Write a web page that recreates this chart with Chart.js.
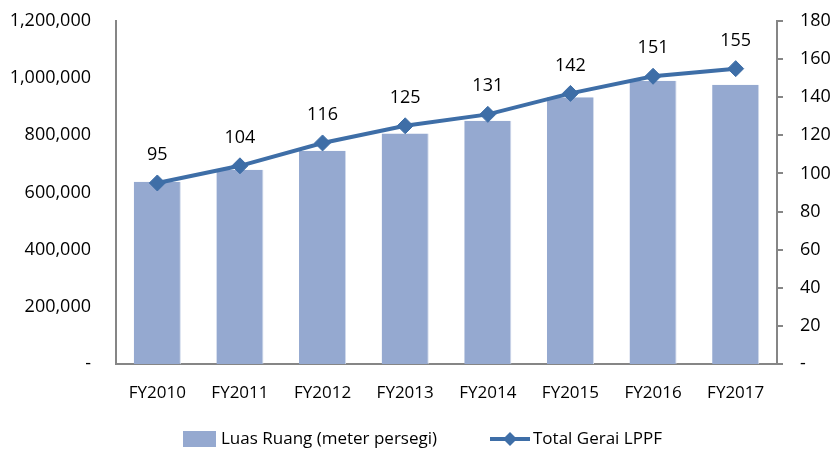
<!DOCTYPE html>
<html lang="id">
<head>
    <meta charset="UTF-8">
    <title>Luas Ruang dan Total Gerai LPPF</title>
    <script src="https://cdn.jsdelivr.net/npm/chart.js"></script>
    <style>
        html, body { margin: 0; padding: 0; background: #fff; }
        .chart-box { position: relative; width: 830px; height: 453px; }
    </style>
</head>
<body>
    <div class="chart-box">
        <canvas id="lppfChart" width="830" height="453"></canvas>
    </div>

    <script>
        const years = ['FY2010', 'FY2011', 'FY2012', 'FY2013', 'FY2014', 'FY2015', 'FY2016', 'FY2017'];
        const luasRuang = [638000, 680000, 746000, 806000, 851000, 933000, 991000, 977000];
        const totalGerai = [95, 104, 116, 125, 131, 142, 151, 155];
        const leftTicks = [0, 200000, 400000, 600000, 800000, 1000000, 1200000];
        const rightTicks = [0, 20, 40, 60, 80, 100, 120, 140, 160, 180];

        const barColor = '#95a9d0';
        const lineColor = '#3e6ea7';
        const axisColor = '#868686';
        const fontFamily = "'Open Sans', sans-serif";

        function formatTick(value) {
            return value === 0 ? '-' : value.toLocaleString('en-US');
        }

        // fixed axis width, and no extra vertical padding from the tick labels
        function fixAxis(width) {
            return scale => {
                scale.width = width;
                scale.paddingTop = 0;
                scale.paddingBottom = 0;
            };
        }

        // numbers above the line points
        const pointLabels = {
            id: 'pointLabels',
            afterDatasetsDraw(chart) {
                const meta = chart.getDatasetMeta(1);
                const ctx = chart.ctx;
                ctx.save();
                ctx.font = '18px ' + fontFamily;
                ctx.fillStyle = '#000';
                ctx.textAlign = 'center';
                ctx.textBaseline = 'middle';
                meta.data.forEach((pt, i) => {
                    ctx.fillText(String(totalGerai[i]), pt.x, pt.y - 28);
                });
                ctx.restore();
            }
        };

        // legend: bar swatch + line with diamond
        const bottomLegend = {
            id: 'bottomLegend',
            afterDraw(chart) {
                const ctx = chart.ctx;
                const y = 439;
                ctx.save();
                ctx.font = '17px ' + fontFamily;
                ctx.textBaseline = 'middle';
                ctx.fillStyle = barColor;
                ctx.fillRect(183, y - 8, 33, 16);
                ctx.fillStyle = '#000';
                ctx.fillText(chart.data.datasets[0].label, 221, y);

                ctx.strokeStyle = lineColor;
                ctx.lineWidth = 4;
                ctx.beginPath();
                ctx.moveTo(490, y);
                ctx.lineTo(530, y);
                ctx.stroke();
                ctx.fillStyle = lineColor;
                ctx.beginPath();
                ctx.moveTo(510, y - 7);
                ctx.lineTo(517, y);
                ctx.lineTo(510, y + 7);
                ctx.lineTo(503, y);
                ctx.closePath();
                ctx.fill();
                ctx.fillStyle = '#000';
                ctx.fillText(chart.data.datasets[1].label, 533, y);
                ctx.restore();
            }
        };

        new Chart(document.getElementById('lppfChart').getContext('2d'), {
            type: 'bar',
            data: {
                labels: years,
                datasets: [{
                    type: 'bar',
                    label: 'Luas Ruang (meter persegi)',
                    data: luasRuang,
                    backgroundColor: barColor,
                    borderColor: '#d3dcec',
                    borderWidth: { right: 1, left: 0, top: 0, bottom: 0 },
                    barPercentage: 0.57,
                    categoryPercentage: 1,
                    yAxisID: 'y',
                    order: 2
                }, {
                    type: 'line',
                    label: 'Total Gerai LPPF',
                    data: totalGerai,
                    borderColor: lineColor,
                    backgroundColor: lineColor,
                    borderWidth: 4,
                    pointStyle: 'rectRot',
                    pointRadius: 8,
                    pointBorderWidth: 1,
                    tension: 0,
                    yAxisID: 'y1',
                    order: 1
                }]
            },
            options: {
                responsive: false,
                animation: false,
                layout: { padding: { top: 21, left: 0, right: 0, bottom: 0 } },
                scales: {
                    x: {
                        grid: { display: false, drawTicks: false },
                        border: { color: axisColor, width: 2 },
                        ticks: { color: '#000', font: { family: fontFamily, size: 17 }, padding: 19 },
                        afterFit: scale => { scale.height = 89; }
                    },
                    y: {
                        position: 'left',
                        min: 0,
                        max: 1200000,
                        afterBuildTicks: scale => { scale.ticks = leftTicks.map(v => ({ value: v })); },
                        grid: { display: false, drawTicks: false },
                        border: { color: axisColor, width: 2 },
                        ticks: { color: '#000', font: { family: fontFamily, size: 18 }, padding: 25, callback: formatTick },
                        afterFit: fixAxis(116)
                    },
                    y1: {
                        position: 'right',
                        min: 0,
                        max: 180,
                        afterBuildTicks: scale => { scale.ticks = rightTicks.map(v => ({ value: v })); },
                        grid: { drawOnChartArea: false, drawTicks: true, tickLength: 6, color: axisColor, lineWidth: 2 },
                        border: { color: axisColor, width: 2 },
                        ticks: { color: '#000', font: { family: fontFamily, size: 18 }, padding: 17, callback: formatTick },
                        afterFit: fixAxis(53)
                    }
                },
                plugins: {
                    legend: { display: false },
                    tooltip: { enabled: false }
                }
            },
            plugins: [pointLabels, bottomLegend]
        });
    </script>
</body>
</html>
